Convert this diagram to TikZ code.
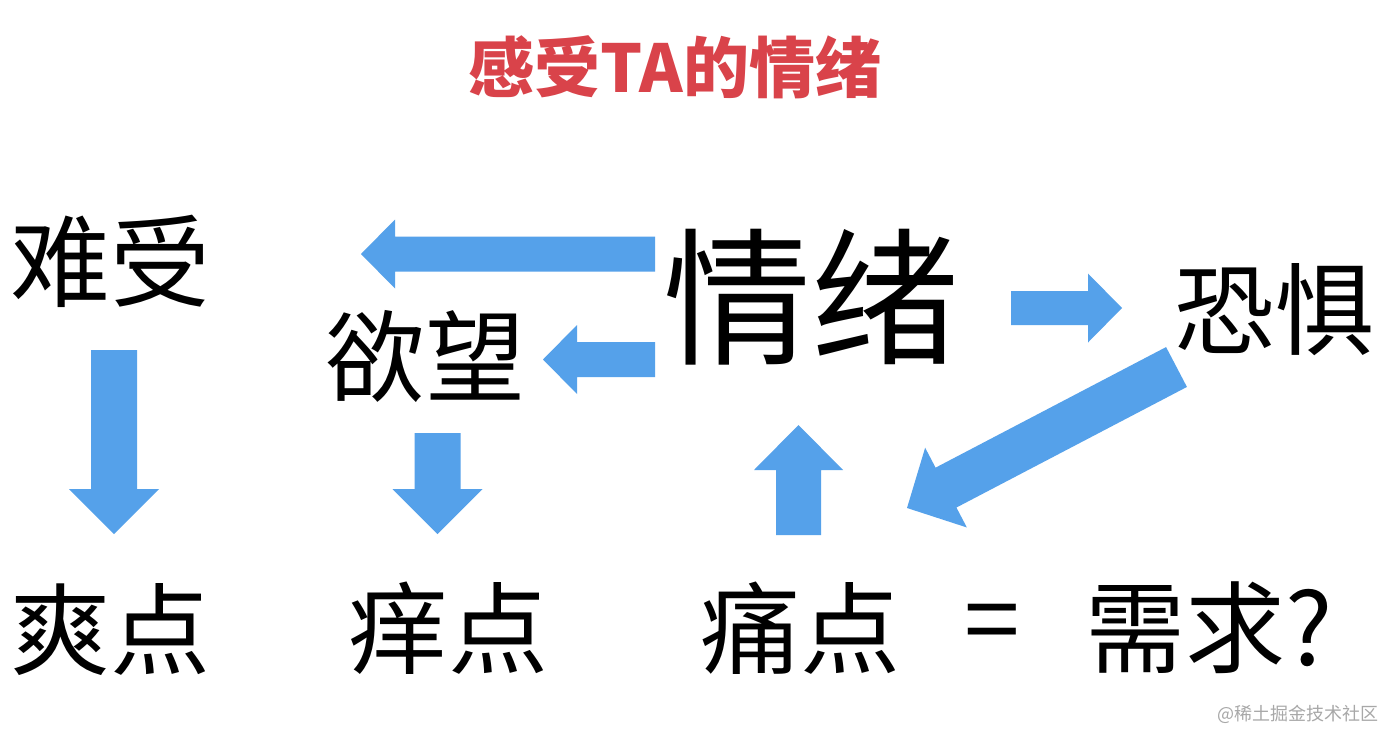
\documentclass[tikz,border=0pt]{standalone}
\usepackage{fontspec}
\newfontfamily\cjk{Noto Sans CJK SC}
\usetikzlibrary{calc}
\definecolor{arrowblue}{HTML}{55A1EA}
\definecolor{titlered}{HTML}{D9434A}
\definecolor{markgray}{HTML}{A8A8A8}
\newcommand\blockarr[5]{%
  \fill[arrowblue] let \p1=(#1),\p2=(#2),\n1={atan2(\y2-\y1,\x2-\x1)},\n2={veclen(\x2-\x1,\y2-\y1)} in
  [shift={(\p1)},rotate=\n1] (0,#3) -- ({\n2-#5},#3) -- ({\n2-#5},#4) -- (\n2,0) -- ({\n2-#5},-#4) -- ({\n2-#5},-#3) -- (0,-#3) -- cycle;}
\begin{document}
\begin{tikzpicture}[x=1pt,y=1pt,
  word/.style={inner sep=0pt,anchor=center,font=\cjk\fontsize{100}{110}\selectfont},
  bigword/.style={inner sep=0pt,anchor=center,font=\cjk\fontsize{148}{160}\selectfont}]
\useasboundingbox (0,0) rectangle (1385,-731);
\fill[white] (0,0) rectangle (1385,-731);
% texts
\node[inner sep=0pt,text=titlered,font=\cjk\bfseries\fontsize{66}{72}\selectfont] (title) at (675,-67) {感受TA的情绪};
\node[word] (nanshou) at (110,-261) {难受};
\node[bigword] (qingxu) at (811,-297) {情绪};
\node[word] (kongju) at (1274,-310) {恐惧};
\node[word] (yuwang) at (425,-356) {欲望};
\node[word] (shuang) at (110,-630) {爽点};
\node[word] (yang) at (448,-628) {痒点};
\node[word] (tong) at (800,-628) {痛点};
\node[word] (eq) at (992,-630) {=};
\node[word] (xuqiu) at (1209,-628) {需求?};
\node[inner sep=0pt,text=markgray,font=\cjk\fontsize{18}{20}\selectfont] (mark) at (1298,-714) {@稀土掘金技术社区};
% arrow end points
\coordinate (a1s) at (655,-254);   \coordinate (a1e) at (361,-254);
\coordinate (a2s) at (655,-359.5); \coordinate (a2e) at (543,-359.5);
\coordinate (a3s) at (1011,-308);  \coordinate (a3e) at (1122,-308);
\coordinate (a4s) at (1176.5,-367);\coordinate (a4e) at (907,-508);
\coordinate (a5s) at (798.5,-535); \coordinate (a5e) at (798.5,-425);
\coordinate (a6s) at (114,-350);   \coordinate (a6e) at (114,-534);
\coordinate (a7s) at (437.5,-433); \coordinate (a7e) at (437.5,-534);
\blockarr{a1s}{a1e}{17.5}{34.5}{34}
\blockarr{a2s}{a2e}{17.5}{34.5}{34}
\blockarr{a3s}{a3e}{17}{34.5}{34}
\blockarr{a4s}{a4e}{22.5}{45}{44}
\blockarr{a5s}{a5e}{22.5}{44.5}{45}
\blockarr{a6s}{a6e}{23}{45}{45}
\blockarr{a7s}{a7e}{23}{45}{45}
\end{tikzpicture}
\end{document}
